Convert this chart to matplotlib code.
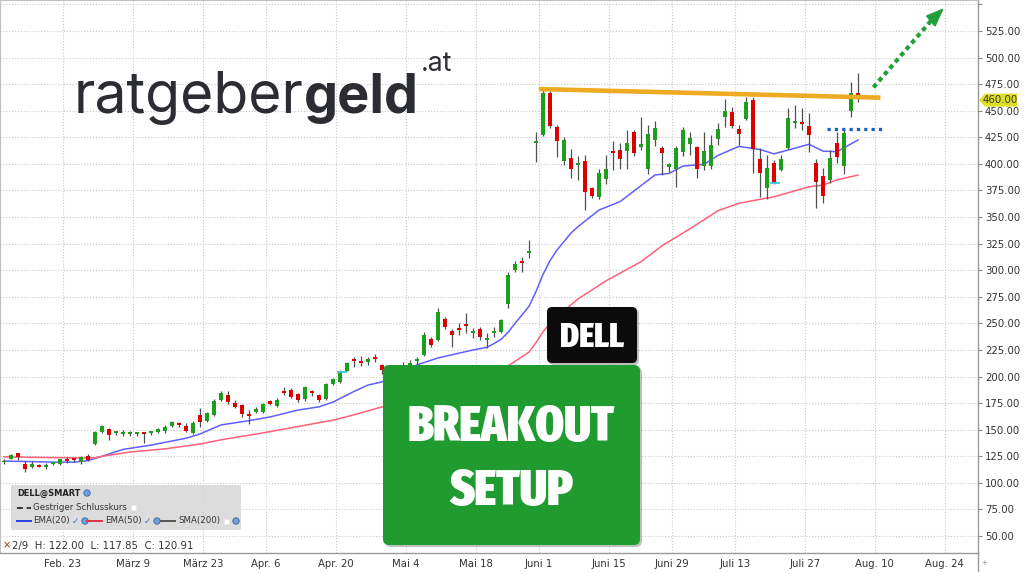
import numpy as np
import matplotlib
matplotlib.use("Agg")
import matplotlib.pyplot as plt
from matplotlib import font_manager as fm
from matplotlib.font_manager import FontProperties
from matplotlib.patches import FancyBboxPatch, Polygon, Rectangle, Circle
from matplotlib.transforms import IdentityTransform
from matplotlib.lines import Line2D

# ---------------- data (trading-day index 0 = Feb 9) ----------------
opens = [119.2, 122.8, 127.8, 117.5, 115.3, 116.2, 114.7, 117.8, 117.9, 122.2,
         122.0, 119.2, 125.3, 136.8, 147.4, 150.4, 146.7, 146.3, 146.3, 146.4,
         147.3, 146.7, 147.8, 149.0, 153.8, 156.0, 153.5, 146.8, 163.8, 158.6,
         164.0, 178.0, 182.6, 175.4, 173.2, 163.8, 167.0, 167.0, 177.0, 172.4,
         185.4, 187.3, 183.6, 178.7, 185.8, 182.6, 178.8, 193.1, 195.3, 205.6,
         215.5, 214.6, 214.0, 217.3, 210.8, 205.0, 207.0, 209.0, 211.0, 214.9,
         220.3, 235.0, 234.5, 253.8, 243.1, 245.3, 249.1, 240.8, 244.4, 234.5,
         240.8, 242.3, 268.3, 300.3, 307.7, 316.0, 419.5, 427.3, 467.0, 434.4,
         402.8, 405.8, 399.0, 403.0, 377.0, 368.7, 385.6, 412.4, 413.0, 412.2,
         430.3, 415.7, 395.0, 422.6, 414.7, 396.9, 395.0, 411.6, 418.8, 416.2,
         398.1, 398.1, 423.2, 444.5, 449.1, 432.5, 442.3, 460.5, 404.3, 377.2,
         400.6, 394.4, 414.8, 438.3, 439.4, 435.6, 401.1, 388.6, 385.0, 419.4,
         398.1, 449.9, 466.4]
highs = [122.0, 127.0, 128.5, 120.8, 120.3, 117.5, 118.4, 120.0, 122.8, 124.6,
         123.0, 125.0, 127.0, 149.0, 154.5, 152.0, 149.0, 149.5, 148.8, 147.0,
         148.0, 149.0, 152.0, 154.0, 158.5, 157.5, 156.0, 158.0, 170.0, 166.5,
         178.5, 186.5, 186.4, 177.5, 174.0, 168.5, 171.5, 175.5, 178.0, 179.5,
         190.0, 189.0, 185.0, 191.3, 187.5, 183.5, 194.3, 198.9, 206.0, 214.0,
         218.0, 219.0, 218.5, 221.2, 212.0, 209.0, 211.0, 214.0, 215.6, 218.0,
         241.5, 237.5, 264.2, 255.7, 244.4, 250.0, 260.0, 245.3, 247.0, 240.7,
         246.5, 254.5, 298.6, 309.0, 312.1, 328.4, 429.7, 470.2, 469.0, 436.6,
         425.6, 413.7, 407.4, 408.4, 378.5, 394.9, 408.4, 421.8, 420.0, 431.9,
         431.9, 444.4, 436.6, 440.7, 416.8, 401.1, 416.8, 434.4, 429.7, 416.8,
         430.3, 427.2, 438.8, 460.8, 453.2, 436.6, 463.2, 462.6, 414.7, 408.4,
         403.7, 408.4, 452.3, 455.4, 452.3, 448.2, 404.3, 396.5, 413.1, 430.3,
         431.9, 477.3, 485.8]
lows = [117.85, 122.0, 121.5, 110.5, 113.7, 114.8, 112.8, 117.0, 117.0, 118.4,
        120.0, 117.5, 121.0, 135.3, 146.5, 140.5, 145.0, 143.8, 143.8, 144.0,
        137.5, 145.0, 147.0, 147.0, 152.5, 152.5, 148.0, 146.0, 153.0, 157.5,
        163.0, 177.0, 174.0, 170.0, 161.6, 155.0, 165.5, 166.0, 173.0, 171.0,
        182.6, 179.5, 176.3, 177.3, 182.0, 176.0, 178.0, 192.0, 194.3, 204.8,
        209.3, 210.0, 210.5, 214.0, 202.0, 200.0, 203.0, 205.0, 207.0, 212.0,
        219.0, 228.0, 233.5, 244.4, 228.0, 239.0, 240.7, 236.0, 234.0, 226.6,
        237.5, 240.8, 264.2, 298.6, 298.6, 311.2, 402.0, 426.0, 433.5, 406.8,
        399.0, 386.4, 385.0, 356.6, 367.5, 366.7, 381.1, 394.3, 395.0, 394.9,
        407.4, 413.1, 390.5, 416.8, 389.6, 392.7, 378.6, 407.4, 408.4, 386.4,
        394.3, 394.9, 417.8, 435.0, 433.5, 417.8, 441.3, 391.0, 369.2, 366.7,
        381.1, 393.6, 413.7, 433.5, 431.9, 411.5, 358.2, 363.5, 382.3, 400.6,
        390.5, 443.8, 458.5]
closes = [120.91, 125.8, 124.2, 113.2, 117.8, 115.4, 116.8, 119.3, 122.0, 121.0,
          121.2, 124.0, 121.8, 147.6, 153.3, 145.2, 147.7, 147.3, 147.3, 146.8,
          145.8, 148.5, 150.6, 152.2, 157.5, 154.3, 149.2, 156.5, 157.7, 165.3,
          177.2, 184.6, 175.6, 171.8, 165.0, 163.0, 169.7, 174.0, 174.3, 177.8,
          184.6, 181.2, 177.5, 189.8, 184.4, 177.5, 192.9, 197.3, 204.5, 212.9,
          214.5, 212.6, 216.1, 216.4, 206.3, 207.0, 209.0, 211.0, 213.0, 216.5,
          239.0, 229.8, 261.0, 247.0, 239.2, 243.8, 247.9, 242.2, 237.6, 235.6,
          243.0, 253.0, 295.4, 305.5, 306.6, 317.4, 421.0, 467.0, 435.7, 421.9,
          422.4, 395.0, 400.2, 374.0, 369.9, 391.6, 395.4, 410.7, 404.4, 419.3,
          410.1, 418.6, 428.0, 434.0, 410.1, 399.8, 414.6, 431.8, 424.6, 395.0,
          412.0, 417.7, 432.4, 450.0, 435.7, 427.9, 457.8, 413.8, 391.8, 396.4,
          381.8, 404.2, 442.8, 440.0, 437.6, 427.3, 383.4, 369.9, 405.1, 406.3,
          429.3, 466.9, 464.0]

ema20_idx = [0, 4, 7, 10, 12, 14, 17, 21, 26, 28, 31, 35, 38, 42, 45, 47, 50, 52, 54,
             59, 62, 67, 69, 70, 71, 72, 73, 74, 75, 76, 77, 78, 79, 80, 81, 82, 85,
             88, 93, 95, 97, 100, 102, 105, 108, 110, 112, 115, 117, 119, 122]
ema20_val = [120.5, 120, 119.5, 119.5, 121, 125, 131.5, 135.5, 142, 146, 154.5, 158.5,
             162, 168.5, 171.5, 176, 186, 192, 195, 211, 217.5, 225, 227.5, 231, 235,
             241.5, 250, 258, 266, 280, 296, 309, 319, 327, 335, 341, 356.6, 364.5,
             389.6, 391, 398, 399.6, 408, 416.5, 413.5, 409.5, 413, 418.5, 412, 411.5,
             422.5]
ema50_idx = [0, 10, 13, 14, 18, 23, 28, 31, 37, 42, 47, 50, 54, 58, 63, 68, 72, 75, 76,
             77, 78, 80, 82, 86, 91, 94, 98, 102, 105, 107, 110, 115, 117, 119, 122]
ema50_val = [124.5, 123.5, 123.5, 125, 129, 132, 136.5, 140.5, 147, 153, 159, 164, 171.5,
             178, 188, 198, 210, 223, 232, 242, 250, 262, 273, 290, 308, 323, 339, 356,
             363, 365.5, 369, 378.5, 380, 385, 389.5]

tick_idx = [9, 19, 29, 38, 48, 58, 68, 77, 87, 96, 105, 115, 125, 135]
tick_labels = ["Feb. 23", "März 9", "März 23", "Apr. 6", "Apr. 20", "Mai 4", "Mai 18",
               "Juni 1", "Juni 15", "Juni 29", "Juli 13", "Juli 27", "Aug. 10", "Aug. 24"]
y_ticks = list(range(50, 551, 25))

resist_idx = [76.4, 125.2]
resist_val = [470.4, 462.3]
support_idx = [117.6, 125.6]
support_val = [432.8, 432.8]
arrow_idx = [124.2, 132.4]
arrow_val = [472.0, 534.4]
head_idx = [134.1, 131.8, 133.0]
head_val = [545.4, 539.1, 529.7]
cyan_idx = [(47.6, 49.0), (109.5, 110.9)]
cyan_val = [204.5, 381.7]
last_price = 460.0

# ---------------- figure ----------------
W, H = 1024, 574
fig = plt.figure(figsize=(W / 100, H / 100), dpi=100, facecolor="white")
ax = fig.add_axes([0, 21 / H, 978 / W, 553 / H])
ax.set_xlim(-4 / 7, 974 / 7)
ax.set_ylim(34.05, 554.16)
ax.set_facecolor("white")

for s in ["left", "top"]:
    ax.spines[s].set_color("#c0c0c0")
for s in ["right", "bottom"]:
    ax.spines[s].set_color("#9a9a9a")
    ax.spines[s].set_linewidth(1.0)

ax.grid(True, color="#c8c8c8", linestyle=(0, (1, 1.6)), linewidth=0.8, zorder=0)
ax.set_axisbelow(True)
ax.set_yticks(y_ticks)
ax.set_yticklabels([f"{v:.2f}" if v < 550 else "" for v in y_ticks])
ax.yaxis.tick_right()
ax.tick_params(axis="y", length=3, color="#8a8a8a", labelsize=7.3, labelcolor="#333333", pad=2)
ax.set_xticks([k - 0.6 for k in tick_idx])
ax.set_xticklabels(tick_labels)
ax.tick_params(axis="x", length=0, pad=4, labelsize=7.3, labelcolor="#333333")

# EMA lines
ax.plot(ema20_idx, ema20_val, color="#5f5fff", lw=1.1, zorder=2)
ax.plot(ema50_idx, ema50_val, color="#ff6079", lw=1.1, zorder=2)

# candles
o = np.array(opens); h = np.array(highs); l = np.array(lows); c = np.array(closes)
idx = np.arange(len(o))
up = c >= o
cols = np.where(up, "#1d9e1d", "#dd0000")
ax.vlines(idx, l, h, color="#505050", lw=0.9, zorder=3)
ax.bar(idx, np.maximum(np.abs(c - o), 1.8), bottom=np.minimum(o, c), width=0.62,
       color=cols, edgecolor="none", zorder=4)

# cyan markers
for (a, b), v in zip(cyan_idx, cyan_val):
    ax.hlines(v, a, b, color="#3cc8dc", lw=1.3, zorder=4)

# overlays
ax.plot(resist_idx, resist_val, color="#eeaa22", lw=3.3, solid_capstyle="butt", zorder=6)
ax.plot(support_idx, support_val, color="#1b5fc6", lw=2.3, linestyle=(0, (1, 1.3)),
        dash_capstyle="butt", zorder=6)
ax.plot(arrow_idx, arrow_val, color="#22a03a", lw=3.0, linestyle=(0, (1.1, 0.9)),
        dash_capstyle="butt", zorder=6)
ax.add_patch(Polygon(list(zip(head_idx, head_val)), closed=True, color="#22a03a", zorder=6))

# ---------------- helpers ----------------
R = fig.canvas.get_renderer()


def fx(px):
    return px / W


def fy(py):
    return 1 - py / H


def fit(t, target_w):
    for _ in range(3):
        w = t.get_window_extent(R).width
        t.set_fontsize(t.get_fontsize() * target_w / w)
    return t


def rbox(x0, y0, x1, y1, r, fc, z, alpha=1.0, ec="none"):
    p = FancyBboxPatch((x0, H - y1), x1 - x0, y1 - y0,
                       boxstyle=f"round,pad=0,rounding_size={r}",
                       transform=IdentityTransform(), fc=fc, ec=ec, alpha=alpha, zorder=z)
    fig.add_artist(p)
    return p


# right axis line extension
fig.add_artist(Line2D([fx(978), fx(978)], [fy(553), fy(571)], color="#9a9a9a", lw=1.0))
fig.text(fx(984), fy(563), "+", fontsize=5, color="#7a8aa0", va="center", ha="center")

# last price label
ydisp = ax.transData.transform((0, last_price))[1]
yc = H - ydisp
poly = Polygon([(979, ydisp), (985, ydisp + 6.5), (1017, ydisp + 6.5), (1017, ydisp - 6.5),
                (985, ydisp - 6.5)], closed=True, transform=IdentityTransform(),
               fc="#dede26", ec="none", zorder=7)
fig.add_artist(poly)
fig.text(fx(1000), fy(yc), f"{last_price:.2f}", fontsize=7.3, color="#333333",
         ha="center", va="center", zorder=8)

# ---------------- logo ----------------
logo_col = "#2b2d33"
t1 = fig.text(fx(74), fy(113), "ratgeber", family="Inter", fontsize=40, color=logo_col,
              va="baseline", ha="left", zorder=8)
fit(t1, 230)
bb = t1.get_window_extent(R)
t2 = fig.text(bb.x1 / W, fy(113), "geld", family="Inter", weight="bold",
              fontsize=t1.get_fontsize(), color=logo_col, va="baseline", ha="left", zorder=8)
fit(t2, 115)
t3 = fig.text(fx(421), fy(71), ".at", family="Inter", fontsize=t1.get_fontsize() * 0.47,
              color=logo_col, va="baseline", ha="left", zorder=8)


# ---------------- condensed heavy font ----------------
def pick_condensed():
    best, bs = None, -1e9
    for f in fm.fontManager.ttflist:
        nm, fn = f.name, f.fname
        st = f.stretch if isinstance(f.stretch, str) else str(f.stretch)
        cond = ("Condensed" in nm or "Narrow" in nm or "Condensed" in fn or "Narrow" in fn
                or st in ("condensed", "extra-condensed", "ultra-condensed", "semi-condensed"))
        if not cond or f.style != "normal" or "Italic" in fn:
            continue
        w = f.weight
        if isinstance(w, str):
            w = fm.weight_dict.get(w, 400)
        sc = float(w)
        if "ExtraCondensed" in fn or st == "extra-condensed":
            sc += 60
        if "SemiCondensed" in fn or st == "semi-condensed":
            sc -= 60
        if "Mono" in nm or "Serif" in nm:
            sc -= 500
        if sc > bs:
            bs, best = sc, fn
    return best


cf = pick_condensed()
if cf:
    cond_fp = FontProperties(fname=cf)
else:
    cond_fp = FontProperties(family="DejaVu Sans", weight="bold", stretch="condensed")


def box_text(s, cx, cy, target_w, z):
    t = fig.text(fx(cx), fy(cy), s, fontproperties=cond_fp.copy(), color="white",
                 ha="center", va="baseline", zorder=z)
    t.set_fontsize(30)
    fit(t, target_w)
    em = t.get_fontsize() * 100 / 72
    t.set_position((fx(cx), fy(cy + 0.36 * em)))
    return t


# DELL box
rbox(549, 309, 639, 365, 5, "black", 9, alpha=0.25)
rbox(547, 307, 637, 363, 5, "#0b0b0b", 9.1)
box_text("DELL", 592, 335, 64, 9.2)

# green box
rbox(385, 367, 642, 547, 6, "black", 9.3, alpha=0.25)
rbox(383, 365, 640, 545, 6, "#1f9b2f", 9.4)
box_text("BREAKOUT", 511, 423, 207, 9.5)
box_text("SETUP", 511, 487, 124, 9.5)

# ---------------- legend ----------------
rbox(11, 485, 241, 530, 2, "#d9d9d9", 9, alpha=0.92)
lt = fig.text(fx(17), fy(493), "DELL@SMART", fontsize=6.5, weight="bold", color="#222222",
              va="center", ha="left", zorder=10)
fit(lt, 63)
gt = fig.text(fx(33), fy(507.5), "Gestriger Schlusskurs", fontsize=6.5, color="#333333",
              va="center", ha="left", zorder=10)
fit(gt, 94)
fs = gt.get_fontsize()


def globe(x, y):
    fig.add_artist(Circle((x, H - y), 3.2, transform=IdentityTransform(), fc="#6f9fd8",
                          ec="#35679f", lw=0.6, zorder=10))


def wsq(x, y):
    fig.add_artist(Rectangle((x - 2.5, H - y - 2.5), 5, 5, transform=IdentityTransform(),
                             fc="white", ec="#e6e6e6", lw=0.5, zorder=10))


def seg(x0, x1, y, col, ls="-"):
    fig.add_artist(Line2D([fx(x0), fx(x1)], [fy(y), fy(y)], color=col, lw=1.4, ls=ls, zorder=10))


globe(87, 493)
seg(17, 31, 507.5, "#333333", ls=(0, (3, 2)))
wsq(133, 507.5)
row = 521
seg(17, 31, row, "#2a3fe0")
fig.text(fx(33), fy(row), "EMA(20)", fontsize=fs, color="#333333", va="center", ha="left", zorder=10)
fig.text(fx(75), fy(row), "✓", fontsize=fs, color="#3a78d0", va="center", ha="center", zorder=10)
globe(85, row)
seg(87, 102, row, "#e0304a")
fig.text(fx(105), fy(row), "EMA(50)", fontsize=fs, color="#333333", va="center", ha="left", zorder=10)
fig.text(fx(147), fy(row), "✓", fontsize=fs, color="#3a78d0", va="center", ha="center", zorder=10)
globe(157, row)
seg(161, 175, row, "#555555")
fig.text(fx(178), fy(row), "SMA(200)", fontsize=fs, color="#333333", va="center", ha="left", zorder=10)
wsq(226, row)
globe(236, row)

# crosshair info
fig.text(fx(7), fy(545), "×", fontsize=7, color="#9a3020", va="center", ha="center", zorder=10)
it = fig.text(fx(12), fy(546), "2/9  H: 122.00  L: 117.85  C: 120.91", fontsize=7,
              color="#333333", va="center", ha="left", zorder=10)
fit(it, 181)

fig.savefig("out.png", dpi=100, facecolor="white")
